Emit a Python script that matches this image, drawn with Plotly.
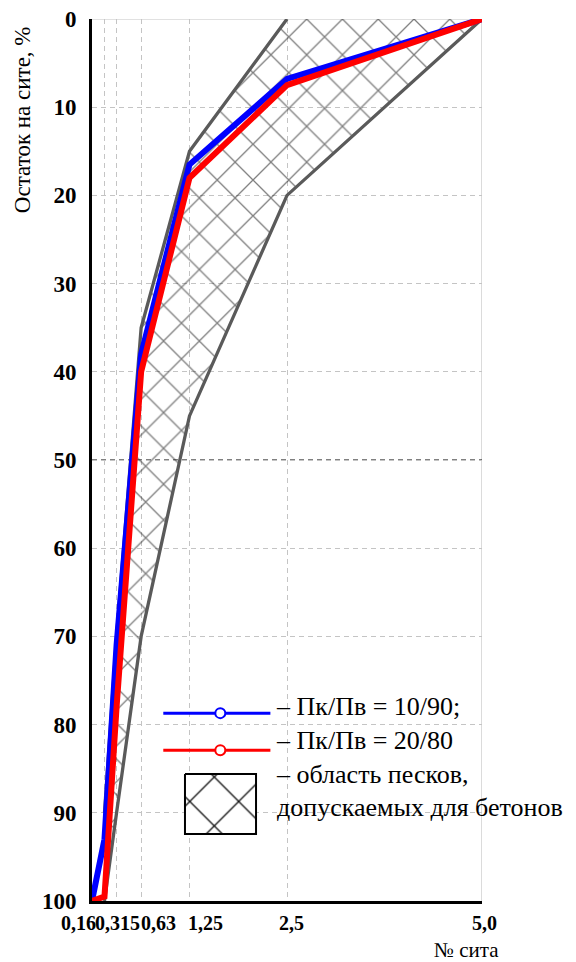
import plotly.graph_objects as go

# ---------------- data ----------------
sieve_sizes = [0, 0.16, 0.315, 0.63, 1.25, 2.5, 5.0]
residue_10_90 = [100, 93, 71, 38, 16.5, 6.8, 0]
residue_20_80 = [100, 99.5, 78, 40, 18, 7.5, 0]

zone_upper_x = [2.5, 1.25, 0.63, 0.315, 0.16]
zone_upper_y = [0, 15, 35, 70, 90]
zone_lower_x = [5.0, 2.5, 1.25, 0.63, 0.315, 0.16]
zone_lower_y = [0, 20, 45, 70, 90, 100]

x_tick_values = [0.16, 0.315, 0.63, 1.25, 2.5, 5.0]
x_tick_labels = ["0,16", "0,315", "0,63", "1,25", "2,5", "5,0"]
y_tick_values = [0, 10, 20, 30, 40, 50, 60, 70, 80, 90, 100]
y_tick_labels = ["0", "10", "20", "30", "40", "50", "60", "70", "80", "90", "100"]

series_names = ["– Пк/Пв = 10/90;", "– Пк/Пв = 20/80"]
zone_name = "– область песков,<br>допускаемых для бетонов"
y_title = "Остаток на сите, %"
x_title = "№ сита"

# ---------------- style ----------------
SERIF = "Liberation Serif, Times New Roman, serif"
BLUE = "#0000ff"
RED = "#ff0000"
GREY_LINE = "#5a5a5a"
GRID = "#c4c4c4"
x_label_shift = [-26, 1, 17, 16, 4, 2]

fig = go.Figure()

zone_x = zone_upper_x + zone_lower_x[::-1]
zone_y = zone_upper_y + zone_lower_y[::-1]
fig.add_trace(go.Scatter(
    x=zone_x, y=zone_y, mode="lines", fill="toself",
    line=dict(width=0, color="rgba(0,0,0,0)"),
    fillcolor="rgba(0,0,0,0)",
    fillpattern=dict(shape="x", size=25.3, solidity=0.1, fgcolor="#000000",
                     bgcolor="rgba(0,0,0,0)", fillmode="overlay"),
    showlegend=False, hoverinfo="skip"))

fig.add_trace(go.Scatter(x=zone_upper_x, y=zone_upper_y, mode="lines",
                         line=dict(color=GREY_LINE, width=3.3), showlegend=False))
fig.add_trace(go.Scatter(x=zone_lower_x, y=zone_lower_y, mode="lines",
                         line=dict(color=GREY_LINE, width=3.3), showlegend=False))

fig.add_trace(go.Scatter(x=sieve_sizes, y=residue_10_90, mode="lines",
                         line=dict(color=BLUE, width=6), showlegend=False))
fig.add_trace(go.Scatter(x=sieve_sizes, y=residue_20_80, mode="lines",
                         line=dict(color=RED, width=6), showlegend=False))

# ---------------- custom legend ----------------
leg_x0, leg_x1, leg_xm = 0.914, 2.287, 1.645
leg_y_blue, leg_y_red = 78.7, 82.9
box_x0, box_x1, box_y0, box_y1 = 1.192, 2.103, 85.6, 92.4

fig.add_trace(go.Scatter(
    x=[box_x0, box_x1, box_x1, box_x0, box_x0],
    y=[box_y0, box_y0, box_y1, box_y1, box_y0],
    mode="lines", fill="toself", fillcolor="white",
    line=dict(color="black", width=2),
    fillpattern=dict(shape="x", size=34.58, solidity=0.075, fgcolor="#111111",
                     bgcolor="white", fillmode="replace"),
    showlegend=False, hoverinfo="skip"))

shapes = [
    dict(type="line", xref="x", yref="y", x0=0, x1=5, y0=0, y1=0,
         line=dict(color=GRID, width=1.2), layer="below"),
    dict(type="line", xref="x", yref="y", x0=5, x1=5, y0=0, y1=100,
         line=dict(color=GRID, width=1.2), layer="below"),
    dict(type="line", xref="x", yref="y", x0=0, x1=5, y0=50, y1=50,
         line=dict(color="black", width=1, dash="5px,4px"), layer="below"),
]
for yy, col in [(leg_y_blue, BLUE), (leg_y_red, RED)]:
    shapes.append(dict(type="line", xref="x", yref="y", x0=leg_x0, x1=leg_x1,
                       y0=yy, y1=yy, line=dict(color=col, width=3)))
    shapes.append(dict(type="circle", xref="x", yref="y", xsizemode="pixel",
                       ysizemode="pixel", xanchor=leg_xm, yanchor=yy,
                       x0=-5, x1=5, y0=-5, y1=5,
                       line=dict(color=col, width=2), fillcolor="white"))

annotations = []
for v, lab, dx in zip(x_tick_values, x_tick_labels, x_label_shift):
    annotations.append(dict(x=v, xref="x", y=-0.0244, yref="paper", text=lab,
                            xshift=dx, showarrow=False, xanchor="center",
                            yanchor="middle", borderpad=0,
                            font=dict(family=SERIF, size=20, color="black",
                                      weight="bold")))
annotations.append(dict(x=-0.178, xref="paper", y=0.886, yref="paper",
                        text=y_title, textangle=-90, showarrow=False,
                        xanchor="center", yanchor="middle",
                        font=dict(family=SERIF, size=23, color="black")))
annotations.append(dict(x=0.9615, xref="paper", y=-0.055, yref="paper",
                        text=x_title, showarrow=False, xanchor="center",
                        yanchor="middle", borderpad=0,
                        font=dict(family=SERIF, size=21, color="black")))
annotations.append(dict(x=2.33, xref="x", y=76.1, yref="y",
                        text="<br>".join([series_names[0], series_names[1], zone_name]),
                        showarrow=False, xanchor="left", yanchor="top",
                        align="left",
                        font=dict(family=SERIF, size=26, color="black")))

fig.update_layout(
    width=576, height=962,
    margin=dict(l=84, r=102, t=11, b=69),
    paper_bgcolor="white", plot_bgcolor="white",
    showlegend=False,
    shapes=shapes, annotations=annotations,
    xaxis=dict(range=[0, 5], tickvals=x_tick_values, showticklabels=False,
               showgrid=True, gridcolor=GRID, griddash="5px,4px", gridwidth=1,
               zeroline=False, showline=True, linecolor="black", linewidth=3,
               ticks="", automargin=False),
    yaxis=dict(range=[100, 0], tickvals=y_tick_values, ticktext=y_tick_labels,
               showgrid=True, gridcolor=GRID, griddash="5px,4px", gridwidth=1,
               zeroline=False, showline=True, linecolor="black", linewidth=3,
               ticks="", ticklabelstandoff=8, automargin=False,
               ticklabeloverflow="allow",
               tickfont=dict(family=SERIF, size=23, color="black", weight="bold")),
)

fig.write_html("out.html")
